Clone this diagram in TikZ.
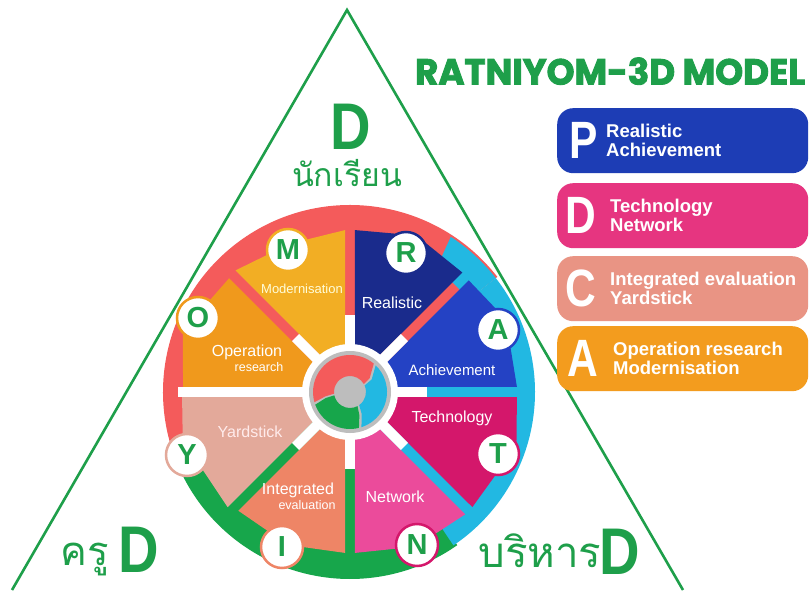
\documentclass[tikz,border=0pt]{standalone}
\usepackage{fontspec}
\usepackage{graphicx}
\setmainfont{Liberation Sans}
\newfontfamily\thaifont[Script=Thai]{Loma}
\newfontfamily\titlefont{Poppins}
\usetikzlibrary{calc}
\definecolor{gtext}{HTML}{1E9F4A}
\definecolor{cReal}{HTML}{1A2B8C}
\definecolor{cAch}{HTML}{2442C4}
\definecolor{cTech}{HTML}{D4176B}
\definecolor{cNet}{HTML}{EB4B9B}
\definecolor{cInt}{HTML}{EE8566}
\definecolor{cYard}{HTML}{E3A99A}
\definecolor{cOper}{HTML}{F0991C}
\definecolor{cMod}{HTML}{F2AE24}
\definecolor{ringred}{HTML}{F45B5B}
\definecolor{ringcyan}{HTML}{22B8E2}
\definecolor{ringgreen}{HTML}{17A64B}
\definecolor{hubgrey}{HTML}{BDBDBD}
\definecolor{boxP}{HTML}{1D3DB5}
\definecolor{boxD}{HTML}{E63580}
\definecolor{boxC}{HTML}{E99484}
\definecolor{boxA}{HTML}{F39C1E}
\tikzset{
  tri/.style={draw=gtext, line width=2.6},
  bub/.style={circle, fill=white, line width=2.5, minimum size=42, inner sep=0, text=gtext, font=\fontsize{29}{29}\selectfont\bfseries},
  seclab/.style={text=white, inner sep=0, font=\fontsize{16}{18}\selectfont},
  smalllab/.style={text=white, inner sep=0, font=\fontsize{12.5}{14}\selectfont},
  legbox/.style={rectangle, rounded corners=16, minimum width=251, minimum height=65, anchor=north west, inner sep=0},
  legletter/.style={text=white, inner sep=0, font=\fontsize{50}{50}\selectfont\bfseries},
  legtext/.style={text=white, inner sep=0, anchor=west, align=left, font=\fontsize{18.5}{19}\selectfont\bfseries},
  thai/.style={text=gtext, inner sep=0, anchor=base},
  bigD/.style={text=gtext, inner sep=0, anchor=base, font=\fontsize{66}{66}\selectfont\bfseries},
  gapline/.style={draw=white, line width=10},
}
\begin{document}
\begin{tikzpicture}[x=1pt,y=1pt]
\useasboundingbox (0,0) rectangle (809,590);
\fill[white] (0,0) rectangle (809,590);

% triangle
\coordinate (apex) at (347,580);
\coordinate (bl) at (12,0);
\coordinate (br) at (683,0);
\draw[tri] (bl) -- (apex) -- (br);

% wheel
\begin{scope}[shift={(350,198)}]
  % coloured backing disk
  \fill[ringred] (0,0) -- (38:187) arc[start angle=38, end angle=198, radius=187] -- cycle;
  \fill[ringgreen] (0,0) -- (198:187) arc[start angle=198, end angle=305, radius=187] -- cycle;
  \fill[ringcyan] (0,0) -- (-56:185) arc[start angle=-56, end angle=38, radius=185] -- cycle;
  \fill[ringcyan] (38:150) -- (38:185) arc[start angle=38, end angle=57, radius=185] -- (55:150) arc[start angle=55, end angle=38, radius=150] -- cycle;
  % sectors
  \fill[cReal] (67.5:13.1) -- (46.75:164) -- (67:170) -- (88.25:162) -- cycle;
  \fill[cAch]  (22.5:13.1) -- (1.75:167) -- (25:172) -- (43.25:163) -- cycle;
  \fill[cTech] (-22.5:13.1) -- (-43.25:168) -- (-18:175) -- (-1.75:167) -- cycle;
  \fill[cNet]  (-67.5:13.1) -- (-88.25:161) -- (-67:168) -- (-46.75:168) -- cycle;
  \fill[cInt]  (-112.5:13.1) -- (-133.25:163) -- (-112:165) -- (-91.75:161) -- cycle;
  \fill[cYard] (202.5:13.1) -- (181.75:168) -- (196:174) -- (223.25:168) -- cycle;
  \fill[cOper] (157.5:13.1) -- (136.75:166) -- (160:178) -- (178.25:167) -- cycle;
  \fill[cMod]  (112.5:13.1) -- (91.75:162) -- (112:160) -- (133.25:167) -- cycle;
  % white gaps near hub
  \foreach \a in {0,45,90,135,225,270,315} \draw[gapline] (0,0) -- (\a:77);
  \draw[gapline] (0,0) -- (180:172);
  % hub
  \fill[white] (0,0) circle (48);
  \fill[hubgrey] (0,0) circle (41);
  \fill[ringred] (50:37) arc[start angle=50, end angle=196, radius=37] -- (190:25) -- (186:16) arc[start angle=186, end angle=30, radius=16] -- (35:24) -- cycle;
  \fill[ringcyan] (-72:37) arc[start angle=-72, end angle=46, radius=37] -- (30:25) -- (24:16) arc[start angle=24, end angle=-55, radius=16] -- (-62:25) -- cycle;
  \fill[ringgreen] (200:37) arc[start angle=200, end angle=284, radius=37] -- (292:25) -- (298:16) arc[start angle=298, end angle=192, radius=16] -- (194:25) -- cycle;
  \fill[hubgrey] (0,0) circle (15);
\end{scope}

% sector labels
\node[seclab] (lReal) at (392,287) {Realistic};
\node[seclab, font=\fontsize{13}{15}\selectfont, text=white!85!yellow] (lMod) at (302,301) {Modernisation};
\node[seclab] (lOper) at (247,238) {Operation};
\node[smalllab] (lRes) at (259,223) {research};
\node[seclab, font=\fontsize{15}{17}\selectfont] (lAch) at (452,220) {Achievement};
\node[seclab] (lTech) at (452,172) {Technology};
\node[seclab, text=white!92!red] (lYard) at (250,158) {Yardstick};
\node[seclab] (lInt) at (298,100) {Integrated};
\node[smalllab] (lEval) at (307,85) {evaluation};
\node[seclab] (lNet) at (395,93) {Network};

% bubbles
\node[bub, draw=cMod]  (bM) at (288,340) {M};
\node[bub, draw=cReal] (bR) at (406,337) {R};
\node[bub, draw=cAch]  (bA) at (498,260) {A};
\node[bub, draw=cTech] (bT) at (498,136) {T};
\node[bub, draw=cTech] (bN) at (417,45) {N};
\node[bub, draw=cInt]  (bI) at (282,43) {I};
\node[bub, draw=cYard] (bY) at (187,135) {Y};
\node[bub, draw=cOper] (bO) at (198,272) {O};

% triangle corner labels
\node[bigD] (Dtop) at (351,440) {\scalebox{0.85}[1]{D}};
\node[thai, font=\thaifont\fontsize{32}{36}\selectfont] (student) at (347,403) {นักเรียน};
\node[thai, font=\thaifont\fontsize{40}{44}\selectfont] (teacher) at (85,25) {ครู};
\node[bigD] (Dleft) at (139,18) {\scalebox{0.85}[1]{D}};
\node[thai, font=\thaifont\fontsize{42}{46}\selectfont] (admin) at (540,23) {บริหาร};
\node[bigD] (Dright) at (620,16) {\scalebox{0.85}[1]{D}};

% title
\node[anchor=south west, inner sep=0, text=gtext] (title) at (415,505) {\resizebox{390pt}{27pt}{\titlefont\bfseries\addfontfeatures{FakeBold=2.5}RATNIYOM-3D MODEL}};

% legend boxes
\node[legbox, fill=boxP] (boxPn) at (557,482) {};
\node[legletter] (letP) at ($(boxPn.west)+(27,0)$) {\scalebox{0.85}[1.05]{P}};
\node[legtext] (txtP) at ($(boxPn.west)+(49,0)$) {Realistic\\Achievement};

\node[legbox, fill=boxD] (boxDn) at (557,407) {};
\node[legletter] (letD) at ($(boxDn.west)+(24,0)$) {\scalebox{0.85}[1.05]{D}};
\node[legtext] (txtD) at ($(boxDn.west)+(53,0)$) {Technology\\Network};

\node[legbox, fill=boxC] (boxCn) at (557,334) {};
\node[legletter] (letC) at ($(boxCn.west)+(24,0)$) {\scalebox{0.85}[1.05]{C}};
\node[legtext] (txtC) at ($(boxCn.west)+(53,0)$) {Integrated evaluation\\Yardstick};

\node[legbox, fill=boxA] (boxAn) at (557,264) {};
\node[legletter] (letA) at ($(boxAn.west)+(26,0)$) {\scalebox{0.85}[1.05]{A}};
\node[legtext] (txtA) at ($(boxAn.west)+(56,0)$) {Operation research\\Modernisation};
\end{tikzpicture}
\end{document}
